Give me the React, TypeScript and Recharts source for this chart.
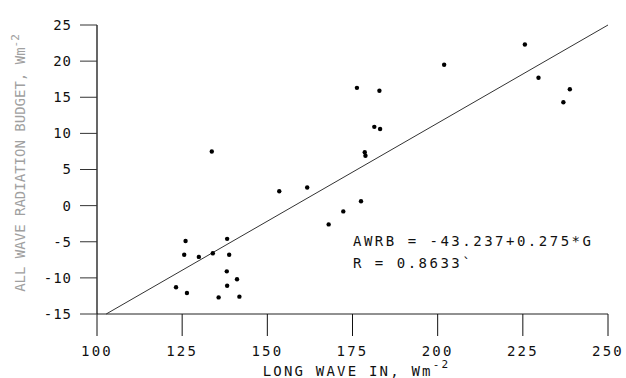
import React from "react";
import { ScatterChart, Scatter, XAxis, YAxis, ReferenceLine } from "recharts";

const longWaveIn = [
  126.0, 138.2, 125.6, 129.9, 134.0, 138.8, 138.1, 141.1, 123.2, 126.4, 138.2, 135.7, 141.8,
  133.7, 153.5, 161.7, 168.0, 172.3, 177.5, 178.6, 178.8, 181.4, 183.1, 176.3, 182.9, 201.9,
  225.6, 229.6, 238.8, 236.9,
];
const allWaveBudget = [
  -4.9, -4.6, -6.8, -7.1, -6.6, -6.8, -9.1, -10.2, -11.3, -12.1, -11.1, -12.7, -12.6,
  7.5, 2.0, 2.5, -2.6, -0.8, 0.6, 7.4, 6.9, 10.9, 10.6, 16.3, 15.9, 19.5,
  22.3, 17.7, 16.1, 14.3,
];
const xTicks = [100, 125, 150, 175, 200, 225, 250];
const yTicks = [-15, -10, -5, 0, 5, 10, 15, 20, 25];
const fitLine = [
  { x: 102.7, y: -15 },
  { x: 250, y: 25 },
];
const equationText = "AWRB = -43.237+0.275*G";
const rText = "R = 0.8633`";

const points = longWaveIn.map((g, i) => ({ g, v: allWaveBudget[i] }));

const FONT = "'DejaVu Sans Mono', 'Liberation Mono', monospace";
const INK = "#111";

const XLabel = (props: any) => {
  const vb = props.viewBox || { x: 0, y: 0, width: 0, height: 0 };
  return (
    <text
      x={vb.x + vb.width / 2 + 4}
      y={vb.y + 62}
      textAnchor="middle"
      fontFamily={FONT}
      fontSize={14}
      letterSpacing={2.2}
      fill={INK}
    >
      LONG WAVE IN, Wm
      <tspan dy={-8} fontSize={11}>-2</tspan>
    </text>
  );
};

const YLabel = () => {
  const x = 25;
  const y = 163;
  return (
    <text
      x={x}
      y={y}
      transform={`rotate(-90, ${x}, ${y})`}
      textAnchor="middle"
      fontFamily={FONT}
      fontSize={14}
      fill="#a0a0a0"
    >
      ALL WAVE RADIATION BUDGET, Wm
      <tspan dy={-6} fontSize={11}>-2</tspan>
    </text>
  );
};

export default function App() {
  return (
    <div style={{ position: "absolute", left: 0, top: 0, width: 626, height: 378, background: "#fff" }}>
      <ScatterChart width={626} height={378} margin={{ top: 25, right: 18, bottom: 0, left: 0 }}>
        <XAxis
          type="number"
          dataKey="g"
          domain={[100, 250]}
          ticks={xTicks}
          interval={0}
          height={64}
          tickSize={22}
          tickMargin={10}
          stroke="#000"
          axisLine={{ stroke: "#222", strokeWidth: 1 }}
          tickLine={{ stroke: "#111", strokeWidth: 1 }}
          tick={{ fill: INK, fontFamily: FONT, fontSize: 14, letterSpacing: 2.2 }}
          label={<XLabel />}
          allowDataOverflow
        />
        <YAxis
          type="number"
          dataKey="v"
          domain={[-15, 25]}
          ticks={yTicks}
          interval={0}
          width={97}
          tickSize={17}
          tickMargin={8}
          stroke="#000"
          axisLine={{ stroke: "#000", strokeWidth: 1.2 }}
          tickLine={{ stroke: "#333", strokeWidth: 1 }}
          tick={{ fill: INK, fontFamily: FONT, fontSize: 14, letterSpacing: 1 }}
          label={<YLabel />}
          allowDataOverflow
        />
        <ReferenceLine
          segment={fitLine}
          stroke="#333"
          strokeWidth={1}
          ifOverflow="visible"
        />
        <Scatter
          data={points}
          fill="#000"
          isAnimationActive={false}
          shape={(p: any) => <circle cx={p.cx} cy={p.cy} r={2.2} fill="#000" />}
        />
      </ScatterChart>
      <div
        style={{
          position: "absolute",
          left: 353,
          top: 230,
          fontFamily: FONT,
          fontSize: 14,
          lineHeight: "22px",
          letterSpacing: "2.5px",
          color: INK,
          whiteSpace: "pre",
        }}
      >
        <div>{equationText}</div>
        <div>{rText}</div>
      </div>
    </div>
  );
}
